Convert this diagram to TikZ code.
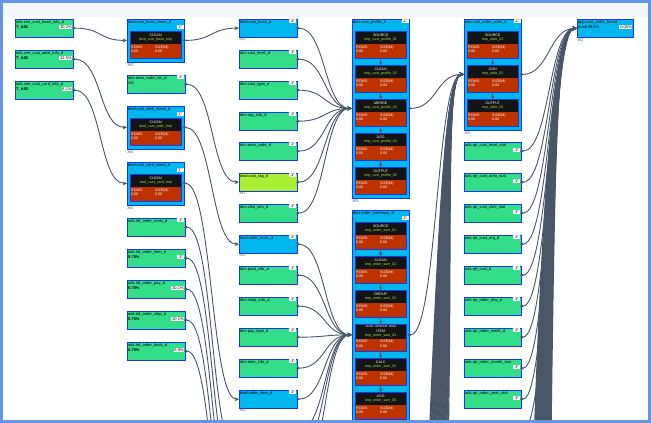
\documentclass[tikz,border=0pt]{standalone}
\usepackage{fontspec}
\setmainfont{Liberation Sans}
\usepackage{tikz}
\usetikzlibrary{arrows.meta, positioning}
\definecolor{cgreen}{RGB}{52,222,136}
\definecolor{cblue}{RGB}{0,183,238}
\definecolor{clime}{RGB}{170,240,50}
\definecolor{cborder}{RGB}{25,55,235}
\definecolor{cblack}{RGB}{20,20,20}
\definecolor{cred}{RGB}{190,50,0}
\definecolor{csub}{RGB}{160,225,60}
\definecolor{cedge}{RGB}{72,86,104}
\definecolor{clbl}{RGB}{70,80,110}
\definecolor{cframe}{RGB}{100,150,225}
\definecolor{ctop}{RGB}{244,247,252}

\newcommand{\tinyf}{\fontsize{4}{5.5}\selectfont}
\newcommand{\tinyb}{\fontsize{3.6}{4.6}\selectfont}

% table node: name, style, x, y, title, line 2, tag, tag shift
\newcommand{\tabnode}[8]{%
  \node[#2] (#1) at ({#3},{#4}) {};
  \node[ttl] at (#1.north west) {#5\\#6};
  \node[tagbox] at ([xshift=-1.2pt,yshift=-#8pt]#1.north east) {#7};
}
% group node: name, x, y, height, title, tag shift
\newcommand{\grpnode}[6]{%
  \node[grp,minimum height=#4pt] (#1) at (#2,#3) {};
  \node[ttl] at (#1.north west) {#5};
  \node[tagbox] at ([xshift=-1.2pt,yshift=-#6pt]#1.north east) {1*};
}
% step box inside a group: name, x, y, title, subtitle
\newcommand{\ibox}[5]{%
  \node[ibbox] (#1) at (#2,#3) {};
  \node[ibtop] (#1t) at (#1.north west) {\textcolor{white}{#4}\\\textcolor{csub}{#5}};
  \node[ibval] at (#1t.south west) {ROWS\\0.00};
  \node[ibval] at ([xshift=24pt]#1t.south west) {SIZE(M)\\0.00};
  \draw[draw=cborder,line width=0.8pt] (#1.north west) rectangle (#1.south east);
  \coordinate (#1i) at ([xshift=-3pt,yshift=4pt]#1t.south west);
  \coordinate (#1o) at ([xshift=3pt,yshift=4pt]#1t.south east);
}
\newcommand{\lnk}[2]{\draw[link] (#1) .. controls +(28,0) and +(-28,0) .. (#2);}

\begin{document}
\begin{tikzpicture}[x=1pt,y=-1pt,
  tabbox/.style={draw=cborder,line width=0.8pt,anchor=north west,inner sep=0pt,
                 minimum width=58pt,minimum height=17.5pt},
  greentab/.style={tabbox,fill=cgreen},
  bluetab/.style={tabbox,fill=cblue},
  limetab/.style={tabbox,fill=clime},
  grp/.style={draw=cborder,line width=0.9pt,fill=cblue,anchor=north west,
              inner sep=0pt,minimum width=57pt},
  ttl/.style={anchor=north west,inner xsep=1pt,inner ysep=1pt,align=left,
              font=\tinyf,text=black},
  tagbox/.style={anchor=north east,fill=white,inner xsep=0.8pt,inner ysep=0.3pt,
                 font=\tinyf,text=black,minimum width=7pt},
  lbl/.style={anchor=north west,inner sep=0.4pt,font=\tinyf,text=clbl},
  ibbox/.style={anchor=north west,fill=cred,inner sep=0pt,minimum width=51pt,
                minimum height=27pt},
  ibtop/.style={anchor=north west,fill=cblack,inner sep=1pt,minimum width=51pt,
                minimum height=13pt,text width=49pt,align=center,font=\tinyb},
  ibval/.style={anchor=north west,inner sep=1pt,align=left,font=\tinyb,text=white},
  link/.style={draw=cedge,line width=0.9pt,shorten <=-1.4pt,
               {Circle[length=3pt]}-{Stealth[length=4.4pt,width=4pt]}},
  bundle/.style={draw=cedge,line width=1.2pt,-{Stealth[length=4.4pt,width=4pt]}},
  inarr/.style={draw=cedge,line width=1pt,-{Stealth[length=3pt,width=3.6pt]}}
]
\useasboundingbox (0,0) rectangle (651,423);
\fill[white] (0,0) rectangle (651,423);
\fill[ctop] (2.6,2.6) rectangle (648.4,17);
\begin{scope}
\clip (2.6,2.6) rectangle (648.4,420.4);

% sources
\tabnode{c1a}{greentab}{15}{19}{ods.crm\_cust\_base\_info\_d}{\textbf{T\_A01}}{30.2\%}{6}
\tabnode{c1b}{greentab}{15}{50}{ods.crm\_cust\_addr\_info\_d}{\textbf{T\_A02}}{12.5\%}{6}
\tabnode{c1c}{greentab}{15}{81}{ods.crm\_cust\_card\_info\_d}{\textbf{T\_A03}}{8.1\%}{6}

% second column
\grpnode{c2A}{127}{19}{43}{dwd.cust\_base\_clean\_d}{6}
\ibox{c2A1}{130}{31}{CLEAN}{dwd\_cust\_base\_tmp}
\node[lbl] at (c2A.south west) {AG};
\tabnode{c2g}{greentab}{127}{75}{dim.area\_code\_src\_d}{AG}{1*}{0}
\grpnode{c2B}{127}{106}{43}{dwd.cust\_addr\_clean\_d}{6}
\ibox{c2B1}{130}{118}{CLEAN}{dwd\_cust\_addr\_tmp}
\node[lbl] at (c2B.south west) {AG};
\grpnode{c2C}{127}{162}{43}{dwd.cust\_card\_clean\_d}{6}
\ibox{c2C1}{130}{174}{CLEAN}{dwd\_cust\_card\_tmp}
\node[lbl] at (c2C.south west) {AG};
\tabnode{c2h}{greentab}{127}{218}{ods.trd\_order\_main\_d}{}{1*}{0}
\tabnode{c2i}{greentab}{127}{249}{ods.trd\_order\_item\_d}{\textbf{5.70\%}}{1*}{6}
\tabnode{c2j}{greentab}{127}{280}{ods.trd\_order\_pay\_d}{\textbf{5.70\%}}{20.1\%}{6}
\tabnode{c2k}{greentab}{127}{311}{ods.trd\_order\_ship\_d}{\textbf{5.70\%}}{20.1\%}{6}
\tabnode{c2l}{greentab}{127}{342}{ods.trd\_order\_back\_d}{\textbf{5.70\%}}{9.9\%}{6}

% third column
\tabnode{c3a}{bluetab}{239}{19}{dwd.cust\_base\_d}{}{1*}{0}
\node[lbl] at (c3a.south west) {AG};
\tabnode{c3b}{greentab}{239}{50}{dim.cust\_level\_d}{}{1*}{0}
\tabnode{c3c}{greentab}{239}{81}{dim.cust\_type\_d}{}{1*}{0}
\tabnode{c3d}{greentab}{239}{112}{dim.org\_info\_d}{}{1*}{0}
\tabnode{c3e}{greentab}{239}{142}{dim.area\_code\_d}{}{1*}{0}
\tabnode{c3f}{limetab}{239}{173}{dwd.cust\_tag\_d}{}{1*}{0}
\node[lbl] at (c3f.south west) {AG};
\tabnode{c3g}{greentab}{239}{204}{dim.chnl\_info\_d}{}{1*}{0}
\tabnode{c3h}{bluetab}{239}{235}{dwd.order\_main\_d}{}{1*}{0}
\node[lbl] at (c3h.south west) {AG};
\tabnode{c3i}{greentab}{239}{266}{dim.prod\_info\_d}{}{1*}{0}
\tabnode{c3j}{greentab}{239}{297}{dim.shop\_info\_d}{}{1*}{0}
\tabnode{c3k}{greentab}{239}{328}{dim.pay\_type\_d}{}{1*}{0}
\tabnode{c3l}{greentab}{239}{359}{dim.date\_info\_d}{}{1*}{0}
\tabnode{c3m}{bluetab}{239}{390}{dwd.order\_item\_d}{}{1*}{0}
\node[lbl] at (c3m.south west) {AG};
\node[bluetab] (c3n) at (239,421) {};

% fourth column
\grpnode{c4A}{352}{19}{179}{dws.cust\_profile\_d}{0}
\ibox{c4A1}{355}{31}{SOURCE}{tmp\_cust\_profile\_01}
\ibox{c4A2}{355}{65}{CLEAN}{tmp\_cust\_profile\_02}
\ibox{c4A3}{355}{99}{MERGE}{tmp\_cust\_profile\_03}
\ibox{c4A4}{355}{133}{AGG}{tmp\_cust\_profile\_04}
\ibox{c4A5}{355}{167}{OUTPUT}{tmp\_cust\_profile\_05}
\node[lbl] at (c4A.south west) {AG};
\foreach \a/\b in {1/2,2/3,3/4,4/5}{
  \draw[inarr] (c4A\a.south) -- (c4A\b.north);
}

\grpnode{c4B}{352}{210}{260}{dws.order\_summary\_d}{6}
\ibox{c4B1}{355}{222}{SOURCE}{tmp\_order\_sum\_01}
\ibox{c4B2}{355}{256}{CLEAN}{tmp\_order\_sum\_02}
\ibox{c4B3}{355}{290}{DEDUP}{tmp\_order\_sum\_03}
\ibox{c4B4}{355}{324}{JOIN ORDER AND\\ITEM}{tmp\_order\_sum\_04}
\ibox{c4B5}{355}{358}{CALC}{tmp\_order\_sum\_05}
\ibox{c4B6}{355}{392}{AGG}{tmp\_order\_sum\_06}
\coordinate (c4B7) at (380.5,426);
\foreach \a/\b in {1/2,2/3,3/4,4/5,5/6}{
  \draw[inarr] (c4B\a.south) -- (c4B\b.north);
}
\draw[inarr] (c4B6.south) -- (c4B7);

% fifth column
\grpnode{c5A}{464}{19}{111}{ads.cust\_order\_wide\_d}{0}
\ibox{c5A1}{467}{31}{SOURCE}{tmp\_wide\_01}
\ibox{c5A2}{467}{65}{JOIN}{tmp\_wide\_02}
\ibox{c5A3}{467}{99}{OUTPUT}{tmp\_wide\_03}
\node[lbl] at (c5A.south west) {AG};
\foreach \a/\b in {1/2,2/3}{
  \draw[inarr] (c5A\a.south) -- (c5A\b.north);
}

\foreach \k/\t/\g in {0/ads.rpt\_cust\_level\_stat/6,1/ads.rpt\_cust\_area\_stat/6,
    2/ads.rpt\_cust\_chnl\_stat/6,3/ads.rpt\_cust\_org\_d/0,4/ads.rpt\_cust\_d/0,
    5/ads.rpt\_order\_day\_d/0,6/ads.rpt\_order\_week\_d/0,7/ads.rpt\_order\_month\_stat/6,
    8/ads.rpt\_order\_year\_stat/6}{
  \tabnode{c5g\k}{greentab,minimum width=57pt}{464}{142+31*\k}{\t}{}{1*}{\g}
}
\node[greentab,minimum width=57pt] (c5g9) at (464,421) {};

% target
\tabnode{c6}{bluetab,minimum width=56pt,minimum height=18pt}{577}{19}{app.cust\_order\_board}{Avail 99.8\%}{0.00\%}{6}
\node[lbl] at (c6.south west) {AG};

% links
\lnk{c1a.east}{c2A1i}
\lnk{c1b.east}{c2B1i}
\lnk{c1c.east}{c2C1i}
\lnk{c2A1o}{c3a.west}
\lnk{c2g.east}{c3f.west}
\lnk{c2B1o}{c3h.west}
\lnk{c2C1o}{c3m.west}
\foreach \s/\k in {c2h/0,c2i/1,c2j/2,c2k/3,c2l/4}{
  \coordinate (d\k) at (239,{452+31*\k});
  \lnk{\s.east}{d\k}
}
\foreach \s in {c3a,c3b,c3c,c3d,c3e,c3f,c3g}{
  \lnk{\s.east}{c4A3i}
}
\foreach \s in {c3h,c3i,c3j,c3k,c3l,c3m,c3n}{
  \lnk{\s.east}{c4B4i}
}
\coordinate (u0) at (297,452);
\coordinate (u1) at (297,483);
\lnk{u0}{c4B4i}
\lnk{u1}{c4B4i}
\lnk{c4A3o}{c5A2i}
\lnk{c4B4o}{c5A2i}
\lnk{c5A2o}{c6.west}
\foreach \k in {0,...,9}{
  \lnk{c5g\k.east}{c6.west}
}

% bundles coming from below the view
\foreach \k in {0,...,24}{
  \coordinate (lb\k) at ({429+0.8*\k},445);
  \draw[bundle] (lb\k) .. controls ({439+0.55*\k},210) and (446,74) .. (c5A2i);
  \coordinate (rb\k) at ({534+0.7*\k},445);
  \draw[bundle] (rb\k) .. controls ({544+0.45*\k},160) and (556,28) .. (c6.west);
}
\end{scope}
\draw[cframe,line width=2.6pt] (1.3,1.3) rectangle (649.7,421.7);
\end{tikzpicture}
\end{document}
